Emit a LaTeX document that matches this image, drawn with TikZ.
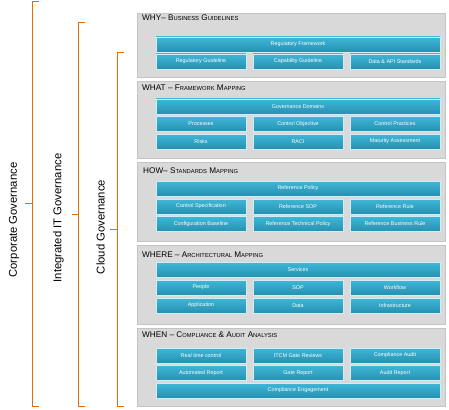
\documentclass[tikz,border=0pt]{standalone}
\usepackage{fontspec}
\setmainfont{Liberation Sans}
\usetikzlibrary{shadows}
\definecolor{btop}{HTML}{3FB7D7}
\definecolor{bbot}{HTML}{2690B1}
\definecolor{pfill}{HTML}{D9D9D9}
\definecolor{pdraw}{HTML}{C4C4C4}
\definecolor{braceor}{HTML}{E46C0A}
\newcommand\smc[1]{{\fontsize{5.8}{6}\selectfont #1}}
\tikzset{
  panel/.style={rectangle, fill=pfill, draw=pdraw, line width=0.6pt, inner sep=0pt,
    drop shadow={shadow xshift=1pt, shadow yshift=-1.2pt, fill=black!45, opacity=0.6}},
  ttl/.style={anchor=base west, inner sep=0pt, font=\fontsize{8.2}{9}\selectfont, text=black},
  box/.style={rectangle, top color=btop, bottom color=bbot, draw=white!75!btop, line width=0.5pt,
    text=white, font=\fontsize{5.4}{6}\selectfont, minimum height=15pt, inner sep=0pt,
    drop shadow={shadow xshift=0.8pt, shadow yshift=-0.8pt, fill=black!50, opacity=0.5}},
  full/.style={box, minimum width=284pt},
  third/.style={box, minimum width=90pt},
  brace/.style={draw=braceor, line width=0.9pt},
  lab/.style={rotate=90, font=\fontsize{11.3}{12}\selectfont, text=black, inner sep=0pt}
}
\begin{document}
\begin{tikzpicture}[x=1pt, y=-1pt]
\useasboundingbox (0,0) rectangle (449,409);
% braces
\draw[brace] (38.5,1.5) -- (32.5,1.5) -- (32.5,406) -- (38.5,406);
\draw[brace] (32.5,203) -- (25,203);
\draw[brace] (84.5,22.5) -- (78.5,22.5) -- (78.5,406) -- (84.5,406);
\draw[brace] (78.5,214) -- (72,214);
\draw[brace] (123.5,52.5) -- (117.5,52.5) -- (117.5,406) -- (123.5,406);
\draw[brace] (117.5,229) -- (110,229);
\node[lab] (corp) at (14,220) {Corporate Governance};
\node[lab] (iitg) at (58.5,218) {Integrated IT Governance};
\node[lab] (cldg) at (100.5,227) {Cloud Governance};
% panels
\node[panel, minimum width=308pt, minimum height=64pt] (pwhy) at (291,45) {};
\node[panel, minimum width=308pt, minimum height=77pt] (pwhat) at (291,119.5) {};
\node[panel, minimum width=308pt, minimum height=79pt] (phow) at (291,201.5) {};
\node[panel, minimum width=308pt, minimum height=79pt] (pwhere) at (291,284.5) {};
\node[panel, minimum width=308pt, minimum height=78pt] (pwhen) at (291,367) {};
% titles
\node[ttl] (twhy) at (142,21) {WHY– B\smc{USINESS} G\smc{UIDELINES}};
\node[ttl] (twhat) at (142,91) {WHAT – F\smc{RAMEWORK} M\smc{APPING}};
\node[ttl] (thow) at (143,173) {HOW– S\smc{TANDARDS} M\smc{APPING}};
\node[ttl] (twhere) at (142,257) {WHERE – A\smc{RCHITECTURAL} M\smc{APPING}};
\node[ttl] (twhen) at (142,337) {WHEN – C\smc{OMPLIANCE} \& A\smc{UDIT} A\smc{NALYSIS}};
% WHY
\node[full] (y0) at (298,44.5) {Regulatory Framework};
\node[third] (y1) at (201,61.5) {Regulatory Guideline};
\node[third] (y2) at (298,61.5) {Capability Guideline};
\node[third] (y3) at (395,61.5) {Data \& API Standards};
% WHAT
\node[full] (a0) at (298,106.5) {Governance Domains};
\node[third] (a1) at (201,124) {Processes};
\node[third] (a2) at (298,124) {Control Objective};
\node[third] (a3) at (395,124) {Control Practices};
\node[third] (a4) at (201,141.5) {Risks};
\node[third] (a5) at (298,141.5) {RACI};
\node[third] (a6) at (395,141.5) {Maturity Assessment};
% HOW
\node[full] (h0) at (298,188.5) {Reference Policy};
\node[third] (h1) at (201,206.5) {Control Specification};
\node[third] (h2) at (298,206.5) {Reference SOP};
\node[third] (h3) at (395,206.5) {Reference Rule};
\node[third] (h4) at (201,224) {Configuration Baseline};
\node[third] (h5) at (298,224) {Reference Technical Policy};
\node[third] (h6) at (395,224) {Reference Business Rule};
% WHERE
\node[full] (w0) at (298,270) {Services};
\node[third] (w1) at (201,287.5) {People};
\node[third] (w2) at (298,287.5) {SOP};
\node[third] (w3) at (395,287.5) {Workflow};
\node[third] (w4) at (201,305.5) {Application};
\node[third] (w5) at (298,305.5) {Data};
\node[third] (w6) at (395,305.5) {Infrastructure};
% WHEN
\node[third] (n1) at (201,355.5) {Real time control};
\node[third] (n2) at (298,355.5) {ITCM Gate Reviews};
\node[third] (n3) at (395,355.5) {Compliance Audit};
\node[third] (n4) at (201,373) {Automated Report};
\node[third] (n5) at (298,373) {Gate Report};
\node[third] (n6) at (395,373) {Audit Report};
\node[full] (n0) at (298,390.5) {Compliance Engagement};
\end{tikzpicture}
\end{document}
